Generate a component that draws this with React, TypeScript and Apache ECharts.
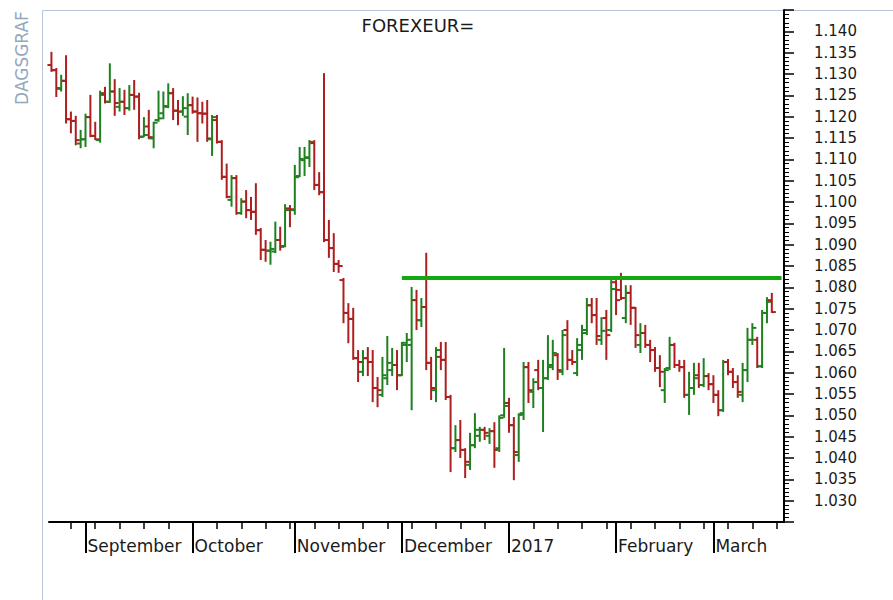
import React, { useEffect, useRef } from 'react';
import * as echarts from 'echarts';

// ---- data ----
const openValues = [
  1.1321, 1.1309, 1.1265, 1.1284, 1.1194, 1.1190, 1.1137, 1.1147, 1.1199, 1.1155,
  1.1145, 1.1255, 1.1235, 1.1259, 1.1223, 1.1235, 1.1220, 1.1251, 1.1247, 1.1153,
  1.1177, 1.1149, 1.1192, 1.1208, 1.1223, 1.1255, 1.1214, 1.1212, 1.1200, 1.1227,
  1.1212, 1.1208, 1.1207, 1.1147, 1.1192, 1.1141, 1.1059, 1.1005, 1.1056, 1.0974,
  1.1001, 1.0981, 1.0977, 1.0934, 1.0888, 1.0886, 1.0884, 1.0911, 1.0897, 1.0985,
  1.0981, 1.1061, 1.1098, 1.1103, 1.1138, 1.1040, 1.1023, 1.0911, 1.0892, 1.0855,
  1.0817, 1.0740, 1.0726, 1.0634, 1.0602, 1.0634, 1.0625, 1.0564, 1.0548, 1.0587,
  1.0606, 1.0618, 1.0594, 1.0665, 1.0665, 1.0770, 1.0723, 1.0754, 1.0623, 1.0559,
  1.0637, 1.0630, 1.0543, 1.0423, 1.0442, 1.0419, 1.0384, 1.0430, 1.0452, 1.0466,
  1.0452, 1.0463, 1.0423, 1.0500, 1.0529, 1.0477, 1.0407, 1.0505, 1.0613, 1.0555,
  1.0606, 1.0564, 1.0587, 1.0618, 1.0641, 1.0602, 1.0700, 1.0630, 1.0599, 1.0653,
  1.0693, 1.0758, 1.0735, 1.0677, 1.0728, 1.0700, 1.0812, 1.0794, 1.0728, 1.0787,
  1.0752, 1.0665, 1.0693, 1.0665, 1.0653, 1.0611, 1.0559, 1.0611, 1.0665, 1.0618,
  1.0613, 1.0548, 1.0564, 1.0594, 1.0571, 1.0592, 1.0573, 1.0548, 1.0512, 1.0625,
  1.0602, 1.0578, 1.0548, 1.0606, 1.0677, 1.0677, 1.0615, 1.0740, 1.0770,
];
const highValues = [
  1.1352, 1.1314, 1.1298, 1.1344, 1.1212, 1.1202, 1.1169, 1.1207, 1.1251, 1.1188,
  1.1261, 1.1270, 1.1325, 1.1288, 1.1267, 1.1263, 1.1274, 1.1286, 1.1256, 1.1199,
  1.1216, 1.1188, 1.1261, 1.1259, 1.1278, 1.1267, 1.1239, 1.1248, 1.1255, 1.1247,
  1.1245, 1.1235, 1.1239, 1.1204, 1.1204, 1.1145, 1.1090, 1.1063, 1.1063, 1.1009,
  1.1028, 1.1012, 1.1044, 1.0939, 1.0911, 1.0907, 1.0954, 1.0942, 1.0995, 1.0993,
  1.1087, 1.1129, 1.1129, 1.1145, 1.1145, 1.1070, 1.1302, 1.0958, 1.0927, 1.0864,
  1.0822, 1.0763, 1.0752, 1.0653, 1.0653, 1.0660, 1.0653, 1.0590, 1.0637, 1.0686,
  1.0658, 1.0653, 1.0672, 1.0693, 1.0801, 1.0794, 1.0775, 1.0881, 1.0637, 1.0660,
  1.0672, 1.0672, 1.0548, 1.0477, 1.0489, 1.0423, 1.0459, 1.0505, 1.0473, 1.0473,
  1.0470, 1.0484, 1.0500, 1.0658, 1.0541, 1.0496, 1.0505, 1.0625, 1.0625, 1.0587,
  1.0630, 1.0630, 1.0688, 1.0677, 1.0646, 1.0700, 1.0723, 1.0653, 1.0681, 1.0712,
  1.0775, 1.0775, 1.0775, 1.0730, 1.0747, 1.0817, 1.0817, 1.0834, 1.0805, 1.0805,
  1.0754, 1.0716, 1.0712, 1.0677, 1.0660, 1.0641, 1.0611, 1.0684, 1.0670, 1.0630,
  1.0630, 1.0602, 1.0623, 1.0623, 1.0634, 1.0599, 1.0594, 1.0559, 1.0630, 1.0632,
  1.0611, 1.0594, 1.0623, 1.0705, 1.0716, 1.0684, 1.0747, 1.0777, 1.0787,
];
const lowValues = [
  1.1305, 1.1246, 1.1259, 1.1184, 1.1161, 1.1133, 1.1126, 1.1129, 1.1152, 1.1145,
  1.1139, 1.1231, 1.1232, 1.1202, 1.1212, 1.1204, 1.1214, 1.1216, 1.1147, 1.1152,
  1.1147, 1.1126, 1.1188, 1.1194, 1.1220, 1.1192, 1.1180, 1.1202, 1.1157, 1.1207,
  1.1141, 1.1184, 1.1141, 1.1108, 1.1137, 1.1052, 1.1009, 1.0989, 1.0970, 1.0970,
  1.0962, 1.0958, 1.0923, 1.0864, 1.0860, 1.0853, 1.0880, 1.0886, 1.0894, 1.0941,
  1.0970, 1.1058, 1.1061, 1.1082, 1.1028, 1.1016, 1.0906, 1.0869, 1.0836, 1.0834,
  1.0716, 1.0669, 1.0630, 1.0578, 1.0592, 1.0592, 1.0531, 1.0519, 1.0543, 1.0571,
  1.0592, 1.0559, 1.0592, 1.0625, 1.0512, 1.0700, 1.0707, 1.0606, 1.0536, 1.0531,
  1.0606, 1.0536, 1.0367, 1.0414, 1.0400, 1.0353, 1.0372, 1.0423, 1.0438, 1.0442,
  1.0433, 1.0377, 1.0414, 1.0494, 1.0459, 1.0348, 1.0391, 1.0489, 1.0529, 1.0517,
  1.0559, 1.0461, 1.0583, 1.0606, 1.0583, 1.0594, 1.0606, 1.0618, 1.0592, 1.0630,
  1.0688, 1.0716, 1.0665, 1.0665, 1.0630, 1.0695, 1.0735, 1.0770, 1.0716, 1.0712,
  1.0658, 1.0646, 1.0658, 1.0625, 1.0602, 1.0566, 1.0529, 1.0606, 1.0611, 1.0602,
  1.0541, 1.0501, 1.0548, 1.0564, 1.0566, 1.0559, 1.0529, 1.0498, 1.0508, 1.0594,
  1.0564, 1.0541, 1.0531, 1.0578, 1.0665, 1.0611, 1.0611, 1.0716, 1.0740,
];
const closeValues = [
  1.1309, 1.1267, 1.1284, 1.1194, 1.1190, 1.1145, 1.1147, 1.1199, 1.1155, 1.1147,
  1.1251, 1.1235, 1.1259, 1.1232, 1.1235, 1.1220, 1.1251, 1.1247, 1.1153, 1.1157,
  1.1152, 1.1186, 1.1196, 1.1225, 1.1255, 1.1214, 1.1212, 1.1220, 1.1227, 1.1212,
  1.1208, 1.1207, 1.1149, 1.1199, 1.1141, 1.1059, 1.1012, 1.1056, 1.0974, 1.1001,
  1.0981, 1.0977, 1.0934, 1.0888, 1.0886, 1.0890, 1.0911, 1.0895, 1.0981, 1.0983,
  1.1058, 1.1101, 1.1105, 1.1141, 1.1040, 1.1023, 1.0911, 1.0892, 1.0855, 1.0850,
  1.0740, 1.0726, 1.0634, 1.0625, 1.0634, 1.0625, 1.0564, 1.0559, 1.0594, 1.0623,
  1.0618, 1.0594, 1.0670, 1.0677, 1.0770, 1.0723, 1.0754, 1.0623, 1.0564, 1.0653,
  1.0630, 1.0543, 1.0423, 1.0442, 1.0419, 1.0391, 1.0430, 1.0466, 1.0466, 1.0459,
  1.0463, 1.0419, 1.0494, 1.0522, 1.0477, 1.0414, 1.0501, 1.0613, 1.0559, 1.0578,
  1.0564, 1.0587, 1.0613, 1.0646, 1.0606, 1.0688, 1.0630, 1.0625, 1.0665, 1.0700,
  1.0758, 1.0735, 1.0686, 1.0698, 1.0688, 1.0796, 1.0770, 1.0775, 1.0787, 1.0752,
  1.0688, 1.0693, 1.0665, 1.0653, 1.0611, 1.0602, 1.0606, 1.0665, 1.0618, 1.0613,
  1.0548, 1.0564, 1.0587, 1.0571, 1.0592, 1.0573, 1.0548, 1.0512, 1.0625, 1.0602,
  1.0578, 1.0555, 1.0606, 1.0677, 1.0705, 1.0615, 1.0740, 1.0766, 1.0742,
];

// trading-day calendar of the x axis
const firstDay = [2016, 7, 23];
const lastDay = [2017, 2, 21];
const monthLabels = ['September', 'October', 'November', 'December', '2017', 'February', 'March'];

const chartTitle = 'FOREXEUR=';
const sideLabel = 'DAGSGRAF';
const yMin = 1.025;
const yMax = 1.145;
const yStep = 0.005;
const yFirstLabel = 1.03;
const yLastLabel = 1.14;

const resistanceLevel = 1.0822;
const resistanceStartIndex = 72;

const RED = '#ad1f1f';
const GREEN = '#1f801f';

function buildDates() {
  const out: { label: string; dow: number; month: number }[] = [];
  let t = Date.UTC(firstDay[0], firstDay[1], firstDay[2]);
  const end = Date.UTC(lastDay[0], lastDay[1], lastDay[2]);
  while (t <= end) {
    const d = new Date(t);
    const dow = d.getUTCDay();
    if (dow >= 1 && dow <= 5) {
      out.push({ label: d.toISOString().slice(0, 10), dow, month: d.getUTCMonth() });
    }
    t += 86400000;
  }
  return out;
}

export default function App() {
  const ref = useRef<HTMLDivElement>(null);

  useEffect(() => {
    if (!ref.current) return;
    const chart = echarts.init(ref.current, null, { renderer: 'svg' });
    const days = buildDates();
    const categories = days.map((d) => d.label);

    const monthStart: Record<number, string> = {};
    let k = 0;
    days.forEach((d, i) => {
      if (i > 0 && d.month !== days[i - 1].month) {
        monthStart[i] = monthLabels[k] ?? '';
        k++;
      }
    });
    const isMonday = (i: number) => days[i] && days[i].dow === 1;
    const isMonthStart = (i: number) => monthStart[i] !== undefined;

    const ohlc = openValues.map((o, i) => [i, o, highValues[i], lowValues[i], closeValues[i]]);

    const resistance = categories.map((_, i) =>
      i === resistanceStartIndex || i === categories.length - 1 ? resistanceLevel : null
    );

    const option: any = {
      animation: false,
      backgroundColor: '#ffffff',
      grid: { left: 49, right: 109, top: 10, bottom: 78, containLabel: false },
      graphic: [
        {
          type: 'line',
          shape: { x1: 42.5, y1: 10.5, x2: 893, y2: 10.5 },
          style: { stroke: '#b7c5d4', lineWidth: 1 },
          silent: true,
        },
        {
          type: 'line',
          shape: { x1: 42.5, y1: 10.5, x2: 42.5, y2: 600 },
          style: { stroke: '#b7c5d4', lineWidth: 1 },
          silent: true,
        },
        {
          type: 'text',
          x: 22,
          y: 58,
          rotation: Math.PI / 2,
          style: {
            text: sideLabel,
            font: '17px "DejaVu Sans"',
            fill: '#93a7bd',
            align: 'center',
            verticalAlign: 'middle',
          },
        },
        {
          type: 'text',
          x: 418,
          y: 25,
          style: {
            text: chartTitle,
            font: '18px "DejaVu Sans"',
            fill: '#1a1a1a',
            align: 'center',
            verticalAlign: 'middle',
          },
        },
      ],
      xAxis: [
        {
          type: 'category',
          data: categories,
          boundaryGap: true,
          position: 'bottom',
          axisLine: { show: true, lineStyle: { color: '#000', width: 2 } },
          axisTick: {
            show: true,
            alignWithLabel: true,
            length: 7,
            interval: (i: number) => !!isMonday(i),
            lineStyle: { color: '#000', width: 1.5 },
          },
          axisLabel: { show: false },
          splitLine: { show: false },
        },
        {
          type: 'category',
          data: categories,
          boundaryGap: true,
          position: 'bottom',
          axisLine: { show: false },
          axisTick: {
            show: true,
            alignWithLabel: true,
            length: 31,
            interval: (i: number) => isMonthStart(i),
            lineStyle: { color: '#000', width: 2 },
          },
          axisLabel: {
            show: true,
            interval: (i: number) => isMonthStart(i),
            formatter: (_v: string, i: number) => monthStart[i] ?? '',
            align: 'left',
            margin: 15,
            padding: [0, 0, 0, 2],
            color: '#1a1a1a',
            fontFamily: 'DejaVu Sans',
            fontSize: 17,
          },
          splitLine: { show: false },
        },
      ],
      yAxis: {
        type: 'value',
        position: 'right',
        min: yMin,
        max: yMax,
        interval: yStep,
        scale: true,
        axisLine: { show: true, lineStyle: { color: '#000', width: 2 } },
        axisTick: { show: true, inside: false, length: 10, lineStyle: { color: '#000', width: 1.5 } },
        minorTick: { show: true, splitNumber: 5, length: 5, lineStyle: { color: '#000', width: 1 } },
        splitLine: { show: false },
        minorSplitLine: { show: false },
        axisLabel: {
          show: true,
          margin: 30,
          color: '#1a1a1a',
          fontFamily: 'DejaVu Sans',
          fontSize: 15,
          formatter: (v: number) =>
            v < yFirstLabel - 0.0004 || v > yLastLabel + 0.0004 ? '' : v.toFixed(3),
        },
      },
      series: [
        {
          type: 'custom',
          name: 'OHLC',
          xAxisIndex: 0,
          yAxisIndex: 0,
          data: ohlc,
          encode: { x: 0, y: [1, 2, 3, 4] },
          renderItem: (params: any, api: any) => {
            const idx = api.value(0);
            const o = api.value(1);
            const h = api.value(2);
            const l = api.value(3);
            const c = api.value(4);
            const pO = api.coord([idx, o]);
            const pH = api.coord([idx, h]);
            const pL = api.coord([idx, l]);
            const pC = api.coord([idx, c]);
            const x = pO[0];
            const color = c < o ? RED : GREEN;
            const style = { stroke: color, lineWidth: 2 };
            return {
              type: 'group',
              children: [
                { type: 'line', shape: { x1: x, y1: pH[1], x2: x, y2: pL[1] }, style },
                { type: 'line', shape: { x1: x - 4, y1: pO[1], x2: x, y2: pO[1] }, style },
                { type: 'line', shape: { x1: x, y1: pC[1], x2: x + 4, y2: pC[1] }, style },
              ],
            };
          },
        },
        {
          type: 'line',
          name: 'resistance',
          data: resistance,
          connectNulls: true,
          symbol: 'none',
          lineStyle: { color: '#13a813', width: 4 },
          z: 3,
        },
      ],
    };

    chart.setOption(option);
    return () => chart.dispose();
  }, []);

  return (
    <div
      ref={ref}
      style={{ position: 'fixed', left: 0, top: 0, width: 893, height: 600, background: '#ffffff' }}
    />
  );
}
